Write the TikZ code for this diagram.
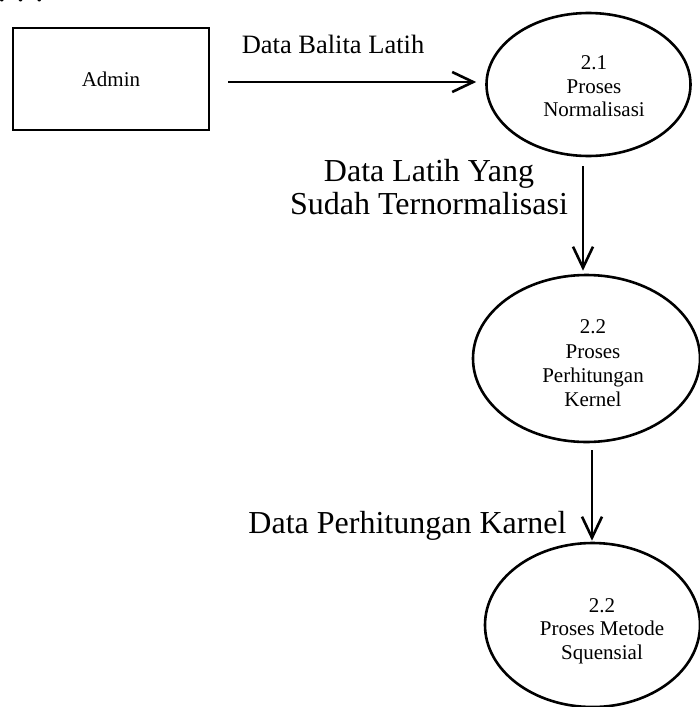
\documentclass[tikz,border=0pt]{standalone}
\usepackage{fontspec}
\setmainfont{Liberation Serif}
\usetikzlibrary{shapes.geometric,arrows.meta}
\begin{document}
\begin{tikzpicture}[x=1pt,y=-1pt,
  lw/.style={line width=2.6pt},
  entity/.style={draw,line width=2.9pt,minimum width=196pt,minimum height=102pt,inner sep=0pt,
    font=\fontsize{21}{23}\selectfont},
  process/.style={draw,lw,ellipse,inner sep=0pt},
  small/.style={font=\fontsize{21}{23.5}\selectfont,inner sep=0pt,align=center},
  mid/.style={font=\fontsize{26.5}{29}\selectfont,inner sep=0pt},
  big/.style={font=\fontsize{32}{33}\selectfont,inner sep=0pt,align=center},
  flow/.style={lw,-{Straight Barb[length=21pt,width=20pt]}}
]
\useasboundingbox (0,0) rectangle (700,707);

% trailing dots of the line above, cut by the page edge
\node[big,anchor=base west] (dots) at (-2.2,1.2) {. . .};

% external entity
\node[entity] (admin) at (111,79) {Admin};

% processes
\node[process,minimum width=204pt,minimum height=143pt] (p1) at (588.5,84.5) {};
\node[small] (p1txt) at (594,86.5) {2.1\\Proses\\Normalisasi};

\node[process,minimum width=227pt,minimum height=167pt] (p2) at (586.5,358.5) {};
\node[small,font=\fontsize{21}{24.3}\selectfont] (p2txt) at (593,363.5) {2.2\\Proses\\Perhitungan\\Kernel};

\node[process,minimum width=215pt,minimum height=164pt] (p3) at (592.5,625) {};
\node[small] (p3txt) at (602,631) {2.2\\Proses Metode\\Squensial};

% data flows
\draw[flow] ([shift={(18,3)}]admin.east) -- ([shift={(-9,-2.5)}]p1.west);
\draw[flow] ([shift={(-5.5,9)}]p1.south) -- ([shift={(-3.5,-3)}]p2.north);
\draw[flow] ([shift={(5.5,7)}]p2.south) -- ([shift={(-0.5,-1)}]p3.north);

% flow labels
\node[mid,anchor=base] (f1) at (333,53) {Data Balita Latih};
\node[big] (f2) at (429,187.4) {Data Latih Yang\\Sudah Ternormalisasi};
\node[big,anchor=base] (f3) at (407.5,533) {Data Perhitungan Karnel};
\end{tikzpicture}
\end{document}
